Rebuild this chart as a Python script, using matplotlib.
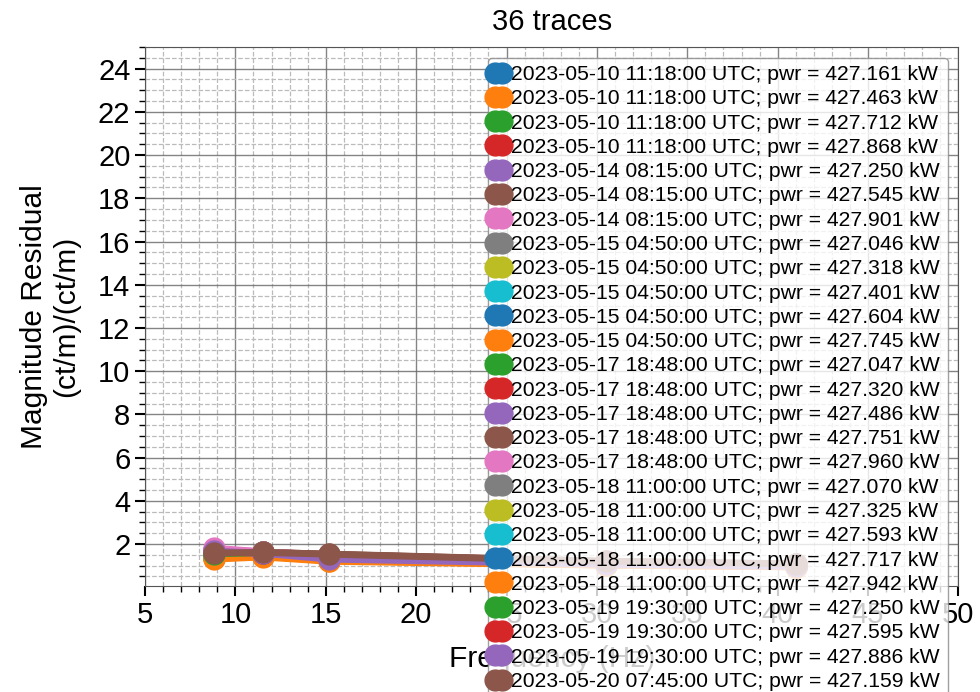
import matplotlib
matplotlib.use("Agg")
import matplotlib.pyplot as plt
from matplotlib.ticker import MultipleLocator

plt.rcParams["font.family"] = ["Liberation Sans", "DejaVu Sans"]

# measurement frequencies (Hz); points above ~24 Hz sit behind the legend
freqs = [8.8, 11.5, 15.2, 30.5, 41.0]

timestamps = (
    ["2023-05-10 11:18:00"] * 4
    + ["2023-05-14 08:15:00"] * 3
    + ["2023-05-15 04:50:00"] * 5
    + ["2023-05-17 18:48:00"] * 5
    + ["2023-05-18 11:00:00"] * 5
    + ["2023-05-19 19:30:00"] * 3
    + ["2023-05-20 07:45:00"] * 4
    + ["2023-05-21 15:20:00"] * 4
    + ["2023-05-22 09:05:00"] * 3
)
powers_kw = [
    427.161, 427.463, 427.712, 427.868,
    427.250, 427.545, 427.901,
    427.046, 427.318, 427.401, 427.604, 427.745,
    427.047, 427.320, 427.486, 427.751, 427.960,
    427.070, 427.325, 427.593, 427.717, 427.942,
    427.250, 427.595, 427.886,
    427.159, 427.402, 427.688, 427.913,
    427.081, 427.377, 427.640, 427.829,
    427.205, 427.560, 427.874,
]

# magnitude residual per trace at each frequency
residuals = [
    [1.42, 1.50, 1.30, 1.08, 0.98],
    [1.30, 1.40, 1.20, 1.02, 0.94],
    [1.55, 1.62, 1.45, 1.15, 1.04],
    [1.60, 1.58, 1.40, 1.12, 1.01],
    [1.65, 1.56, 1.28, 1.06, 0.96],
    [1.58, 1.60, 1.50, 1.18, 1.06],
    [1.80, 1.64, 1.48, 1.16, 1.05],
    [1.45, 1.52, 1.35, 1.10, 1.00],
    [1.50, 1.55, 1.38, 1.11, 1.00],
    [1.40, 1.48, 1.32, 1.05, 0.97],
    [1.48, 1.53, 1.36, 1.09, 0.99],
    [1.35, 1.45, 1.25, 1.04, 0.95],
    [1.52, 1.60, 1.42, 1.13, 1.02],
    [1.62, 1.58, 1.44, 1.14, 1.03],
    [1.70, 1.60, 1.30, 1.07, 0.97],
    [1.57, 1.62, 1.52, 1.19, 1.07],
    [1.76, 1.63, 1.47, 1.15, 1.04],
    [1.46, 1.51, 1.34, 1.09, 0.99],
    [1.51, 1.56, 1.39, 1.12, 1.01],
    [1.43, 1.49, 1.31, 1.06, 0.97],
    [1.49, 1.54, 1.37, 1.10, 1.00],
    [1.33, 1.43, 1.23, 1.03, 0.95],
    [1.54, 1.61, 1.43, 1.13, 1.02],
    [1.61, 1.57, 1.41, 1.12, 1.01],
    [1.68, 1.59, 1.29, 1.06, 0.96],
    [1.56, 1.61, 1.51, 1.18, 1.06],
    [1.74, 1.62, 1.46, 1.15, 1.04],
    [1.47, 1.52, 1.35, 1.10, 1.00],
    [1.53, 1.57, 1.40, 1.12, 1.01],
    [1.41, 1.47, 1.31, 1.06, 0.97],
    [1.50, 1.55, 1.37, 1.10, 1.00],
    [1.34, 1.44, 1.24, 1.03, 0.95],
    [1.55, 1.60, 1.44, 1.14, 1.03],
    [1.63, 1.58, 1.42, 1.13, 1.02],
    [1.66, 1.57, 1.30, 1.07, 0.97],
    [1.58, 1.61, 1.53, 1.20, 1.08],
]

fig = plt.figure(figsize=(9.8, 6.92), dpi=100)
ax = fig.add_axes([0.148, 0.153, 0.83, 0.779])

colors = plt.rcParams["axes.prop_cycle"].by_key()["color"]
for i, (ts, pw, vals) in enumerate(zip(timestamps, powers_kw, residuals)):
    ax.plot(freqs, vals, marker="o", ms=15, lw=5, color=colors[i % len(colors)],
            label=f"{ts} UTC; pwr = {pw:.3f} kW")

ax.set_xlim(5, 50)
ax.set_ylim(0.05, 25)
ax.xaxis.set_major_locator(MultipleLocator(5))
ax.xaxis.set_minor_locator(MultipleLocator(1))
ax.yaxis.set_major_locator(MultipleLocator(2))
ax.yaxis.set_minor_locator(MultipleLocator(0.5))
ax.grid(which="major", color="#666666", lw=1.0, alpha=0.8)
ax.grid(which="minor", color="#bbbbbb", lw=0.9, ls="--")
ax.set_axisbelow(True)
ax.tick_params(which="major", labelsize=21, length=7, width=1.5)
ax.tick_params(which="minor", length=4, width=1)
for s in ax.spines.values():
    s.set_color("#555555")

ax.set_title("36 traces", fontsize=21, pad=12)
ax.set_xlabel("Frequency (Hz)", fontsize=21.5, labelpad=12)
ax.set_ylabel("Magnitude Residual\n(ct/m)/(ct/m)", fontsize=21.5, labelpad=13)

ax.legend(loc="upper right", fontsize=15.2, numpoints=2, handlelength=0.25,
          handletextpad=0.5, labelspacing=0.25, borderpad=0.35, borderaxespad=0.5,
          framealpha=0.8, edgecolor="#888888")

fig.savefig("out.png", dpi=100)
